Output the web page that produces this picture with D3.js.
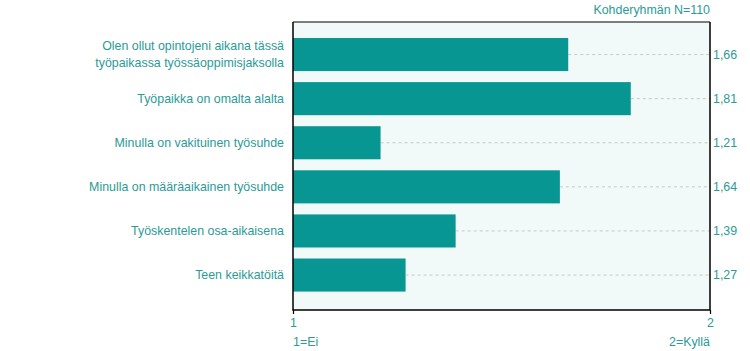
<!DOCTYPE html>
<html>
<head>
<meta charset="utf-8">
<script src="https://cdn.jsdelivr.net/npm/d3@7"></script>
<style>
  body { margin: 0; background: #fff; }
  svg { display: block; font-family: "Liberation Sans", Arial, sans-serif; }
</style>
</head>
<body>
<div id="chart"></div>
<script>
// data
const categories = [
  ["Olen ollut opintojeni aikana tässä", "työpaikassa työssäoppimisjaksolla"],
  ["Työpaikka on omalta alalta"],
  ["Minulla on vakituinen työsuhde"],
  ["Minulla on määräaikainen työsuhde"],
  ["Työskentelen osa-aikaisena"],
  ["Teen keikkatöitä"]
];
const values = [1.66, 1.81, 1.21, 1.64, 1.39, 1.27];
const ticks = [1, 2];
const scaleLabels = ["1=Ei", "2=Kyllä"];
const note = "Kohderyhmän N=110";

const W = 750, H = 351;
const plot = { left: 293, right: 710, top: 22, bottom: 310 };
const teal = "#079692";
const txt = "#2b9b96";
const fs = 12.4;

const svg = d3.select("#chart").append("svg")
  .attr("width", W).attr("height", H);

const x = d3.scaleLinear().domain([1, 2]).range([plot.left, plot.right]);
const y = d3.scaleBand()
  .domain(d3.range(values.length))
  .range([32.5, 297.1])
  .paddingInner(0.25)
  .paddingOuter(0.125);

// fond de la zone
svg.append("rect")
  .attr("x", plot.left).attr("y", plot.top)
  .attr("width", plot.right - plot.left).attr("height", plot.bottom - plot.top)
  .attr("fill", "#f2f9f9");

// pointillés depuis le bout de la barre
svg.selectAll(".guide")
  .data(values)
  .enter().append("line")
    .attr("x1", d => x(d))
    .attr("x2", plot.right)
    .attr("y1", (d, i) => y(i) + y.bandwidth() / 2)
    .attr("y2", (d, i) => y(i) + y.bandwidth() / 2)
    .attr("stroke", "#c8c8c8")
    .attr("stroke-dasharray", "3,3");

// barres
svg.selectAll(".bar")
  .data(values)
  .enter().append("rect")
    .attr("x", x(1))
    .attr("y", (d, i) => y(i))
    .attr("width", d => x(d) - x(1))
    .attr("height", y.bandwidth())
    .attr("fill", teal);

// cadre
svg.append("path")
  .attr("d", `M${plot.left},${plot.top}V${plot.bottom}H${plot.right}V${plot.top}`)
  .attr("fill", "none").attr("stroke", "#000").attr("stroke-width", 1.5);
svg.append("line")
  .attr("x1", plot.left).attr("x2", plot.right)
  .attr("y1", plot.top).attr("y2", plot.top)
  .attr("stroke", "#000").attr("stroke-width", 1);

// axe x
const xAxis = svg.append("g")
  .attr("transform", `translate(0,${plot.bottom})`)
  .call(d3.axisBottom(x).tickValues(ticks).tickSize(4).tickFormat(d3.format("d")));
xAxis.select(".domain").remove();
xAxis.selectAll("line").attr("stroke", "#000").attr("stroke-width", 1.2);
xAxis.selectAll("text")
  .attr("fill", txt).attr("font-size", fs)
  .attr("font-family", "Liberation Sans, Arial, sans-serif")
  .attr("y", 8);

svg.append("text").attr("x", plot.left).attr("y", 346)
  .attr("fill", txt).attr("font-size", fs).text(scaleLabels[0]);
svg.append("text").attr("x", plot.right).attr("y", 346)
  .attr("text-anchor", "end")
  .attr("fill", txt).attr("font-size", fs).text(scaleLabels[1]);

svg.append("text").attr("x", plot.right).attr("y", 14)
  .attr("text-anchor", "end")
  .attr("fill", txt).attr("font-size", fs).text(note);

// valeurs
svg.selectAll(".val")
  .data(values)
  .enter().append("text")
    .attr("x", plot.right + 3)
    .attr("y", (d, i) => y(i) + y.bandwidth() / 2)
    .attr("dy", "0.35em")
    .attr("fill", txt).attr("font-size", fs)
    .text(d => d3.format(".2f")(d).replace(".", ","));

// libellés
const lab = svg.selectAll(".cat")
  .data(categories)
  .enter().append("text")
    .attr("text-anchor", "end")
    .attr("fill", txt).attr("font-size", fs)
    .attr("transform", (d, i) => `translate(284,${y(i) + y.bandwidth() / 2})`);
lab.selectAll("tspan")
  .data(d => d.map((t, j) => ({ t, j, n: d.length })))
  .enter().append("tspan")
    .attr("x", 0)
    .attr("y", d => (d.j - (d.n - 1) / 2) * 17)
    .attr("dy", "0.35em")
    .text(d => d.t);
</script>
</body>
</html>
